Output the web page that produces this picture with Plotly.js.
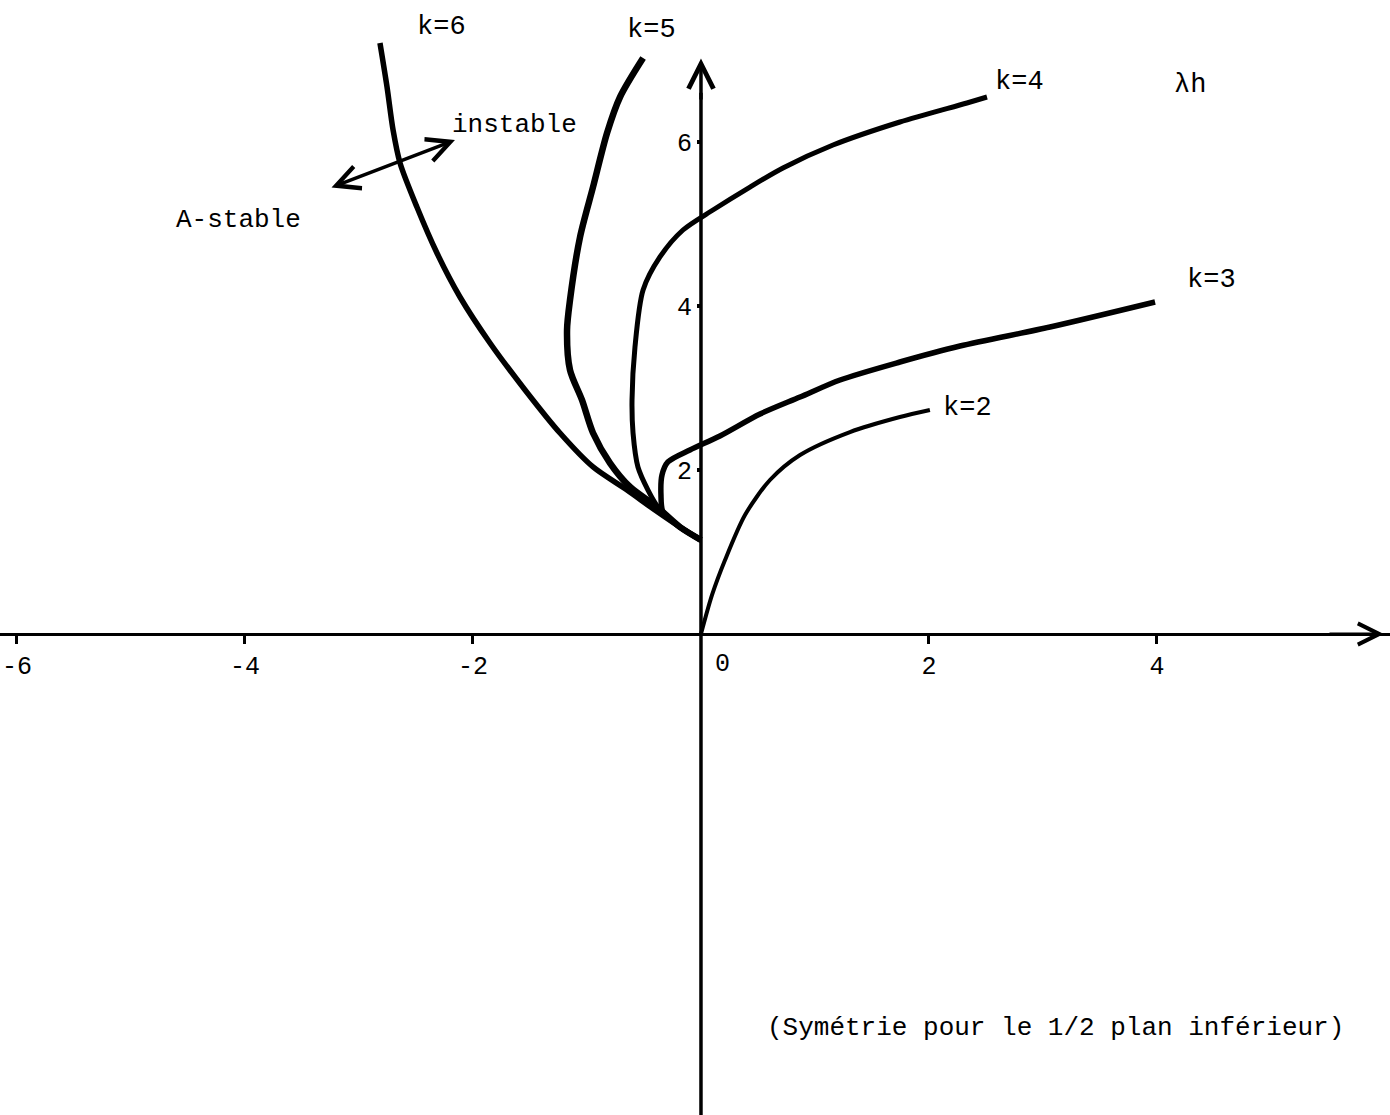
<!DOCTYPE html>
<html>
<head>
<meta charset="utf-8">
<script src="https://cdn.plot.ly/plotly-3.0.1.min.js"></script>
<style>html,body{margin:0;padding:0;background:#fff;}#chart{width:1390px;height:1115px;}</style>
</head>
<body>
<div id="chart"></div>
<script>
// Stability boundaries (upper half plane): x = Re(λh), y = Im(λh)
const k2x = [0, 0.097, 0.211, 0.386, 0.605, 0.869, 1.307, 1.745, 2.008];
const k2y = [0, 0.476, 0.902, 1.451, 1.878, 2.183, 2.463, 2.646, 2.732];

const k3x = [0, -0.185, -0.333, -0.351, -0.342, -0.290, -0.097, 0.166, 0.518, 0.869, 1.220, 1.745, 2.272, 3.062, 3.983];
const k3y = [1.146, 1.305, 1.488, 1.695, 1.939, 2.098, 2.244, 2.415, 2.683, 2.890, 3.098, 3.317, 3.512, 3.744, 4.049];

const k4x = [0, -0.185, -0.377, -0.465, -0.553, -0.596, -0.605, -0.579, -0.508, -0.360, -0.158, 0.105, 0.430, 0.719, 1.158, 1.745, 2.333, 2.509];
const k4y = [1.146, 1.305, 1.549, 1.756, 2.037, 2.451, 2.854, 3.500, 4.195, 4.598, 4.927, 5.171, 5.451, 5.683, 5.963, 6.244, 6.476, 6.549];

const k5x = [0, -0.185, -0.386, -0.622, -0.798, -0.947, -1.044, -1.149, -1.175, -1.149, -1.061, -0.947, -0.824, -0.710, -0.508];
const k5y = [1.146, 1.305, 1.549, 1.793, 2.085, 2.451, 2.854, 3.220, 3.707, 4.073, 4.841, 5.451, 6.110, 6.549, 7.024];

const k6x = [0, -0.185, -0.404, -0.649, -0.947, -1.237, -1.543, -1.851, -2.114, -2.316, -2.492, -2.640, -2.701, -2.754, -2.816];
const k6y = [1.146, 1.305, 1.512, 1.756, 2.037, 2.451, 2.976, 3.549, 4.110, 4.646, 5.207, 5.744, 6.146, 6.671, 7.207];

const xTicks = [-6, -4, -2, 2, 4];
const yTicks = [2, 4, 6];

const FONT = '"Liberation Mono", "DejaVu Sans Mono", monospace';
const xr = [-6.149, 6.044];
const yr = [-5.866, 7.732];

function curve(x, y, w) {
  return {x: x, y: y, type: 'scatter', mode: 'lines',
          line: {color: '#000', width: w, shape: 'spline', smoothing: 0.8},
          hoverinfo: 'skip', showlegend: false};
}

const data = [
  curve(k2x, k2y, 4),
  curve(k3x, k3y, 5.5),
  curve(k4x, k4y, 5),
  curve(k5x, k5y, 6.5),
  curve(k6x, k6y, 5.5)
];

function label(text, x, y, size) {
  return {text: text, x: x, y: y, xref: 'x', yref: 'y', showarrow: false,
          font: {family: FONT, size: size || 26, color: '#000'}};
}

const annotations = [
  label('k=6', -2.272, 7.402, 27),
  label('k=5', -0.430, 7.366, 27),
  label('k=4', 2.798, 6.732, 27),
  label('k=3', 4.482, 4.317, 27),
  label('k=2', 2.342, 2.756, 27),
  label('λh', 4.289, 6.695, 27),
  label('instable', -1.632, 6.207, 26),
  label('A-stable', -4.061, 5.049, 26),
  label('(Symétrie pour le 1/2 plan inférieur)', 3.114, -4.805, 26),
  Object.assign(label('0', 0, 0, 25), {xshift: 22, yshift: -30}),
  // y-axis arrow
  {x: 0, y: 7.02, ax: 0, ay: 6.5, xref: 'x', yref: 'y', axref: 'x', ayref: 'y',
   text: '', showarrow: true, arrowhead: 5, arrowsize: 1.4, arrowwidth: 3.5, arrowcolor: '#000'},
  // x-axis arrow
  {x: 5.99, y: 0, ax: 5.5, ay: 0, xref: 'x', yref: 'y', axref: 'x', ayref: 'y',
   text: '', showarrow: true, arrowhead: 5, arrowsize: 1.4, arrowwidth: 3, arrowcolor: '#000'},
  // double arrow A-stable <-> instable
  {x: -2.158, y: 6.024, ax: -3.254, ay: 5.439, xref: 'x', yref: 'y', axref: 'x', ayref: 'y',
   text: '', showarrow: true, arrowside: 'end+start', arrowhead: 5, startarrowhead: 5,
   arrowsize: 1.3, startarrowsize: 1.3, arrowwidth: 3.5, arrowcolor: '#000'}
];

const layout = {
  width: 1390, height: 1115,
  margin: {l: 0, r: 0, t: 0, b: 0},
  paper_bgcolor: '#fff', plot_bgcolor: '#fff',
  showlegend: false,
  xaxis: {
    range: xr, anchor: 'free', position: (0 - yr[0]) / (yr[1] - yr[0]),
    showgrid: false, zeroline: false, showline: true, linecolor: '#000', linewidth: 3,
    tickmode: 'array', tickvals: xTicks, ticktext: xTicks.map(String),
    ticks: 'outside', ticklen: 8, tickwidth: 3, tickcolor: '#000',
    ticklabelstandoff: 0, ticklabeloverflow: 'allow',
    tickfont: {family: FONT, size: 25, color: '#000'}, fixedrange: true
  },
  yaxis: {
    range: yr, anchor: 'free', position: (0 - xr[0]) / (xr[1] - xr[0]),
    showgrid: false, zeroline: false, showline: false,
    tickmode: 'array', tickvals: yTicks, ticktext: yTicks.map(String),
    ticks: 'outside', ticklen: 4, tickwidth: 4, tickcolor: '#000',
    ticklabelstandoff: 0,
    tickfont: {family: FONT, size: 25, color: '#000'}, fixedrange: true
  },
  shapes: [
    {type: 'line', xref: 'x', yref: 'y', x0: 0, x1: 0, y0: yr[0], y1: 6.6,
     line: {color: '#000', width: 3.5}}
  ],
  annotations: annotations
};

Plotly.newPlot('chart', data, layout, {staticPlot: true, displayModeBar: false});
</script>
</body>
</html>
